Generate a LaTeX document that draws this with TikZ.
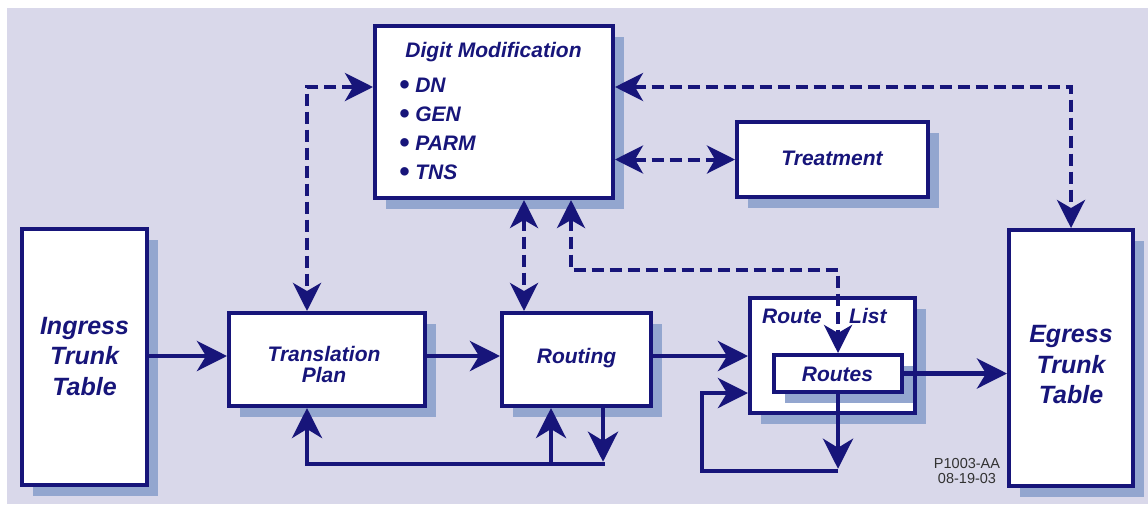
\documentclass[tikz,border=0pt]{standalone}
\usepackage{fontspec}
\usetikzlibrary{arrows.meta,shadows}
\newfontfamily\arialfam{Liberation Sans}
\definecolor{bgc}{RGB}{217,216,234}
\definecolor{shadowc}{RGB}{147,166,207}
\definecolor{navyc}{RGB}{23,21,122}
\definecolor{stampc}{RGB}{50,50,50}
\newcommand\lblfont{\arialfam\bfseries\itshape\fontsize{21}{21}\selectfont}
\newcommand\tblfont{\arialfam\bfseries\itshape\fontsize{25}{30.5}\selectfont}
\newcommand\stampfont{\arialfam\fontsize{14.5}{15}\selectfont}
\newcommand\bigdot{\raisebox{-2.2pt}{\scalebox{1.4}{\textbullet}}}

\begin{document}
\begin{tikzpicture}[x=1pt,y=-1pt,
  box/.style={draw=navyc, line width=4pt, fill=white, inner sep=0pt,
    drop shadow={shadow xshift=11pt, shadow yshift=-11pt, fill=shadowc, opacity=1}},
  txt/.style={text=navyc, font=\lblfont, inner sep=0pt},
  tbltxt/.style={text=navyc, font=\tblfont, inner sep=0pt, align=center},
  conn/.style={draw=navyc, line width=4.5pt, -{Stealth[length=30pt,width=30pt,inset=9pt]}},
  dconn/.style={draw=navyc, line width=4pt, dash pattern=on 12pt off 6pt,
    arrows={Stealth[length=28pt,width=28pt,inset=8pt]-Stealth[length=28pt,width=28pt,inset=8pt]}},
]
\useasboundingbox (0,0) rectangle (1148,504);
\fill[white] (0,0) rectangle (1148,504);
\fill[bgc] (7,8) rectangle (1148,504);

% boxes
\node[box, minimum width=125pt, minimum height=256pt] (ingress) at (84.5,357) {};
\node[box, minimum width=196pt, minimum height=93pt] (trans) at (327,359.5) {};
\node[box, minimum width=149pt, minimum height=93pt] (routing) at (576.5,359.5) {};
\node[box, minimum width=165pt, minimum height=115pt] (rlist) at (832.5,355.5) {};
\node[box, minimum width=128pt, minimum height=37pt] (routes) at (838,373.5) {};
\node[box, minimum width=238pt, minimum height=172pt] (digit) at (494,112) {};
\node[box, minimum width=191pt, minimum height=75pt] (treat) at (832.5,159.5) {};
\node[box, minimum width=124pt, minimum height=256pt] (egress) at (1071,358) {};

% labels
\node[tbltxt] (ingressL) at (84.5,356.5) {Ingress\\Trunk\\Table};
\node[tbltxt] (egressL) at (1071,365) {Egress\\Trunk\\Table};
\node[txt, align=center] (transL) at (324,364) {Translation\\Plan};
\node[txt, anchor=base] (routingL) at (576.5,363) {Routing};
\node[txt, anchor=base] (treatL) at (832,165) {Treatment};
\node[txt, anchor=base west] (rlistA) at (762,323) {Route};
\node[txt, anchor=base west] (rlistB) at (849,323) {List};
\node[txt, anchor=base] (routesL) at (837.5,381) {Routes};
\node[txt, anchor=base] (digitL) at (493.5,57) {Digit Modification};
\node[txt, anchor=base west] (dn) at (399,92) {\bigdot\ DN};
\node[txt, anchor=base west] (gen) at (399,121) {\bigdot\ GEN};
\node[txt, anchor=base west] (parm) at (399,150) {\bigdot\ PARM};
\node[txt, anchor=base west] (tns) at (399,179) {\bigdot\ TNS};
\node[text=stampc, font=\stampfont, align=center, inner sep=0pt] (stamp) at (967,471) {P1003-AA\\08-19-03};

% helper points
\coordinate (hA) at (0,356);
\coordinate (lpA) at (838,471);
\coordinate (lpB) at (702,471);
\coordinate (lpC) at (702,393);
\coordinate (rpA) at (603,464);
\coordinate (rpB) at (307,464);
\coordinate (rpC) at (551,464);
\coordinate (dA) at (307,87);
\coordinate (dB) at (524,250);
\coordinate (dC) at (571,270);
\coordinate (dD) at (838,270);
\coordinate (dE) at (1071,87);

% solid flow
\draw[conn] (ingress.east |- hA) -- (trans.west |- hA);
\draw[conn] (trans.east |- hA) -- (routing.west |- hA);
\draw[conn] (routing.east |- hA) -- (rlist.west |- hA);
\draw[conn] (routes.east) -- (egress.west |- routes.east);
\draw[conn] (routes.south -| lpA) -- ([yshift=2.25pt]lpA);
\draw[conn] (lpA) -- (lpB) -- (lpC) -- (rlist.west |- lpC);
\draw[conn] (routing.south -| rpA) -- ([yshift=2.25pt]rpA);
\draw[conn, line cap=rect] (rpA) -- (rpB) -- (trans.south -| rpB);
\draw[conn] (rpC) -- (routing.south -| rpC);

% dashed links to digit modification
\draw[dconn] (digit.west |- dA) -- (dA) -- (trans.north -| dA);
\draw[dconn] (digit.south -| dB) -- (routing.north -| dB);
\draw[dconn] (digit.south -| dC) -- (dC) -- (dD) -- (routes.north -| dD);
\draw[dconn] (digit.east |- treat.west) -- (treat.west);
\draw[dconn] (digit.east |- dE) -- (dE) -- (egress.north -| dE);
\end{tikzpicture}
\end{document}
